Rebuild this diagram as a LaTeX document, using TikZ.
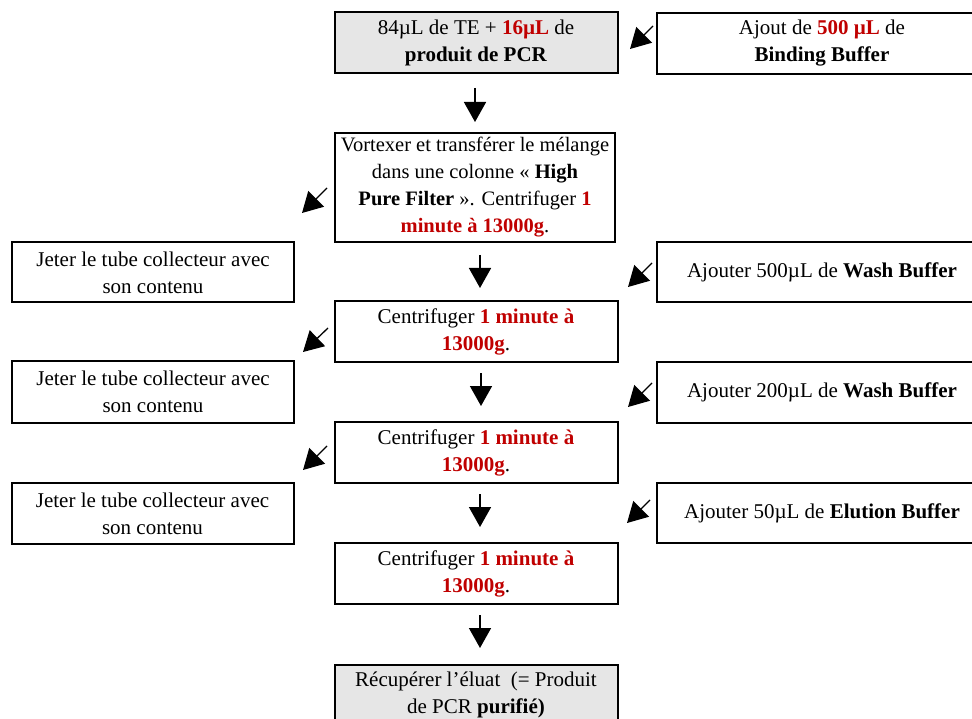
\documentclass[tikz,border=0pt]{standalone}
\usepackage{fontspec}
\setmainfont{Liberation Serif}
\usetikzlibrary{arrows.meta}
\definecolor{myred}{HTML}{C00000}
\definecolor{boxgrey}{HTML}{E6E6E6}
\newcommand{\rd}[1]{\textcolor{myred}{\textbf{#1}}}
\begin{document}
\begin{tikzpicture}[x=1pt,y=-1pt,
  box/.style={draw, line width=2pt, align=center, inner sep=0pt, font=\fontsize{21}{27}\selectfont},
  mid/.style={box, minimum width=283pt, minimum height=61pt},
  side/.style={box, minimum width=282pt, minimum height=60pt},
  rside/.style={box, minimum width=330pt, minimum height=60pt},
  down/.style={line width=1.6pt, -{Triangle[length=20pt,width=22pt]}},
  diag/.style={line width=1.3pt, -{Triangle[length=20pt,width=22pt]}}]
\useasboundingbox (0,0) rectangle (972,719);
\clip (0,0) rectangle (972,719);
\fill[white] (0,0) rectangle (972,719);

% center column
\node[mid, fill=boxgrey] (b1) at (476,43) {84µL de TE + \rd{16µL} de\\\textbf{produit de PCR}};
\node[mid, minimum width=280pt, minimum height=109pt, font=\fontsize{20.5}{27}\selectfont] (b2) at (475,187.5) {Vortexer et transférer le mélange\\dans une colonne « \textbf{High}\\\textbf{Pure Filter} ». Centrifuger \rd{1}\\\rd{minute à 13000g}.};
\node[mid] (b3) at (476,331.5) {Centrifuger \rd{1 minute à}\\\rd{13000g}.};
\node[mid] (b4) at (476,452.5) {Centrifuger \rd{1 minute à}\\\rd{13000g}.};
\node[mid] (b5) at (476,573.5) {Centrifuger \rd{1 minute à}\\\rd{13000g}.};
\node[mid, fill=boxgrey, minimum height=60pt] (b6) at (476,695) {Récupérer l’éluat~ (= Produit\\de PCR \textbf{purifié)}};

% left column
\node[side] (l1) at (153,272.5) {Jeter le tube collecteur avec\\son contenu};
\node[side, minimum height=62pt] (l2) at (153,392) {Jeter le tube collecteur avec\\son contenu};
\node[side, minimum height=61pt] (l3) at (152.5,513.5) {Jeter le tube collecteur avec\\son contenu};

% right column
\node[rside, minimum height=61pt] (r1) at (822,43.5) {Ajout de \rd{500 µL} de\\\textbf{Binding Buffer}};
\node[rside] (r2) at (822,272) {Ajouter 500µL de \textbf{Wash Buffer}};
\node[rside, minimum height=61pt] (r3) at (822,392.5) {Ajouter 200µL de \textbf{Wash Buffer}};
\node[rside] (r4) at (822,513) {Ajouter 50µL de \textbf{Elution Buffer}};

% arrow end points
\coordinate (d1s) at (475,88);  \coordinate (d1e) at (475,122);
\coordinate (d2s) at (480,255); \coordinate (d2e) at (480,288);
\coordinate (d3s) at (481,373); \coordinate (d3e) at (481,406);
\coordinate (d4s) at (480,494); \coordinate (d4e) at (480,527);
\coordinate (d5s) at (480,615); \coordinate (d5e) at (480,648);

\coordinate (ls1) at (327,188); \coordinate (le1) at (302,213);
\coordinate (ls2) at (328,328); \coordinate (le2) at (303,352);
\coordinate (ls3) at (327,446); \coordinate (le3) at (303,470);

\coordinate (rs1) at (653,26);  \coordinate (re1) at (630,49);
\coordinate (rs2) at (652,263); \coordinate (re2) at (628,287);
\coordinate (rs3) at (652,383); \coordinate (re3) at (628,407);
\coordinate (rs4) at (650,500); \coordinate (re4) at (627,523);

\foreach \i in {1,...,5} \draw[down] (d\i s) -- (d\i e);
\foreach \i in {1,2,3} \draw[diag] (ls\i) -- (le\i);
\foreach \i in {1,...,4} \draw[diag] (rs\i) -- (re\i);
\end{tikzpicture}
\end{document}
